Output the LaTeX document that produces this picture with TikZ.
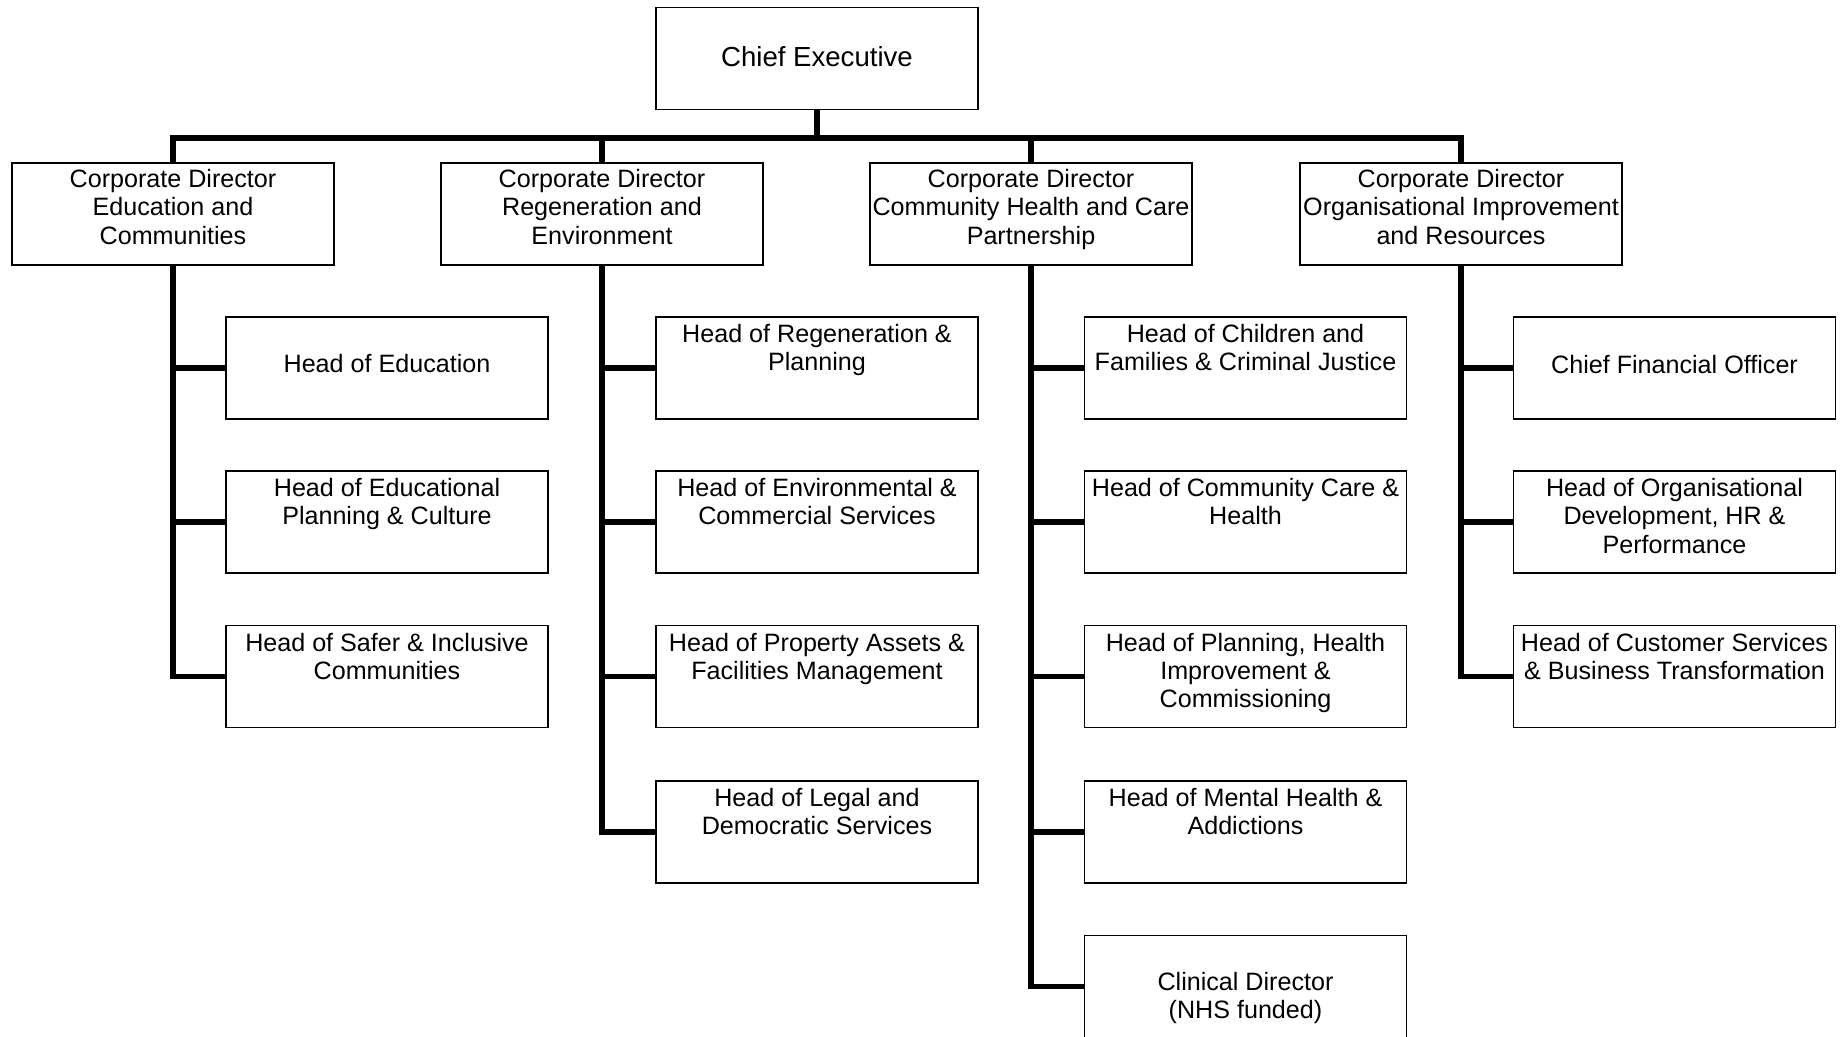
\documentclass[tikz,border=0pt]{standalone}
\usepackage{fontspec}
\setmainfont{Liberation Sans}
\usepackage{tikz}
\newcommand{\toplines}[2][0.51cm]{\parbox[c][2.04cm][t]{6.44cm}{\centering\rule{0pt}{#1}#2}}

\begin{document}
\begin{tikzpicture}[x=0.02cm,y=-0.02cm,
  box/.style={draw,line width=0.7pt,inner sep=0pt,minimum width=6.44cm,minimum height=2.04cm,align=center,font=\fontsize{14.3pt}{16.2pt}\selectfont},
  link/.style={line width=3pt}]
\useasboundingbox (0,0) rectangle (1847,1037);
\node[box,font=\fontsize{15.7pt}{18pt}\selectfont] (ce) at (817,58.5) {\toplines[1.19cm]{Chief Executive}};
\node[box] (cdEdu) at (173,214) {\toplines[0.49cm]{Corporate Director\\Education and\\Communities}};
\node[box] (cdRegen) at (602,214) {\toplines[0.49cm]{Corporate Director\\Regeneration and\\Environment}};
\node[box] (cdHealth) at (1031,214) {\toplines[0.49cm]{Corporate Director\\Community Health and Care\\Partnership}};
\node[box] (cdOrg) at (1461,214) {\toplines[0.49cm]{Corporate Director\\Organisational Improvement\\and Resources}};
\node[box] (hEdu) at (387,368) {\toplines[1.12cm]{Head of Education}};
\node[box] (hEduPlan) at (387,522) {\toplines{Head of Educational\\Planning \& Culture}};
\node[box] (hSafer) at (387,676.5) {\toplines{Head of Safer \& Inclusive\\Communities}};
\node[box] (hRegen) at (817,368) {\toplines{Head of Regeneration \&\\Planning}};
\node[box] (hEnv) at (817,522) {\toplines{Head of Environmental \&\\Commercial Services}};
\node[box] (hProp) at (817,676.5) {\toplines{Head of Property Assets \&\\Facilities Management}};
\node[box] (hLegal) at (817,832) {\toplines{Head of Legal and\\Democratic Services}};
\node[box] (hChild) at (1245.5,368) {\toplines{Head of Children and\\Families \& Criminal Justice}};
\node[box] (hCare) at (1245.5,522) {\toplines{Head of Community Care \&\\Health}};
\node[box] (hPlan) at (1245.5,676.5) {\toplines{Head of Planning, Health\\Improvement \&\\Commissioning}};
\node[box] (hMental) at (1245.5,832) {\toplines{Head of Mental Health \&\\Addictions}};
\node[box] (hClin) at (1245.5,986.5) {\toplines[1.1cm]{Clinical Director\\(NHS funded)}};
\node[box] (hCFO) at (1674.5,368) {\toplines[1.13cm]{Chief Financial Officer}};
\node[box] (hOD) at (1674.5,522) {\toplines{Head of Organisational\\Development, HR \&\\Performance}};
\node[box] (hCust) at (1674.5,676.5) {\toplines{Head of Customer Services\\\& Business Transformation}};
\coordinate (bus) at (817,138);
\draw[link] (ce.south) -- (bus);
\draw[link] (cdEdu.north) |- (bus) -| (cdOrg.north);
\draw[link] (cdRegen.north) -- (cdRegen.north |- bus);
\draw[link] (cdHealth.north) -- (cdHealth.north |- bus);
\draw[link] (cdEdu.south) |- (hSafer.west);
\draw[link] (hEdu.west) -- (hEdu.west -| cdEdu.south);
\draw[link] (hEduPlan.west) -- (hEduPlan.west -| cdEdu.south);
\draw[link] (cdRegen.south) |- (hLegal.west);
\draw[link] (hRegen.west) -- (hRegen.west -| cdRegen.south);
\draw[link] (hEnv.west) -- (hEnv.west -| cdRegen.south);
\draw[link] (hProp.west) -- (hProp.west -| cdRegen.south);
\draw[link] (cdHealth.south) |- (hClin.west);
\draw[link] (hChild.west) -- (hChild.west -| cdHealth.south);
\draw[link] (hCare.west) -- (hCare.west -| cdHealth.south);
\draw[link] (hPlan.west) -- (hPlan.west -| cdHealth.south);
\draw[link] (hMental.west) -- (hMental.west -| cdHealth.south);
\draw[link] (cdOrg.south) |- (hCust.west);
\draw[link] (hCFO.west) -- (hCFO.west -| cdOrg.south);
\draw[link] (hOD.west) -- (hOD.west -| cdOrg.south);
\end{tikzpicture}
\end{document}
